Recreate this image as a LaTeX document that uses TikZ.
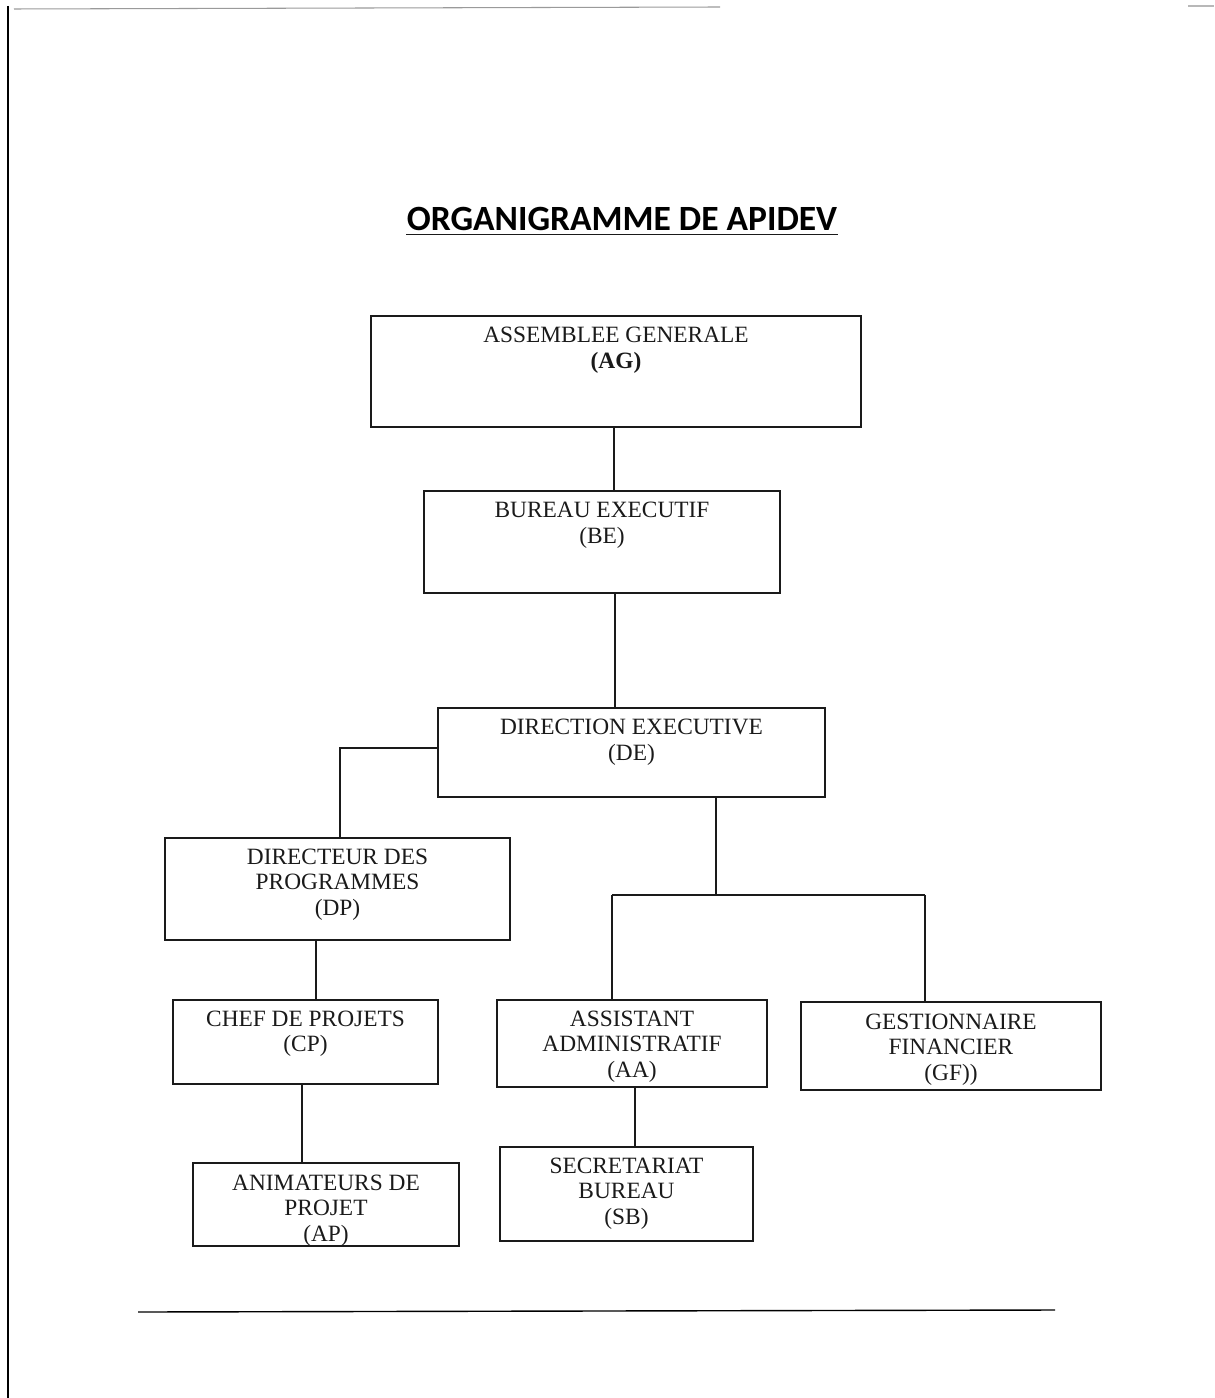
\documentclass[tikz,border=0pt]{standalone}
\usepackage{fontspec}
\setmainfont{Liberation Serif}
\newfontfamily\titlefont{Carlito}
\usetikzlibrary{positioning}
\definecolor{ink}{HTML}{1A1A1A}
\definecolor{edge}{HTML}{9A9A9A}

\begin{document}
\begin{tikzpicture}[x=0.02cm,y=-0.02cm,
  orgbox/.style={draw=ink,line width=0.8pt,inner sep=0pt},
  orglbl/.style={anchor=north,inner sep=0pt,align=center,text=ink,font=\fontsize{13.3}{14.7}\selectfont},
  wire/.style={draw=ink,line width=0.7pt}]
\useasboundingbox (0,0) rectangle (1214,1398);
\draw[line width=1.4pt] (8,6) -- (8,1398);
\draw[edge,line width=0.6pt] (14,9) -- (720,7);
\draw[edge!70,line width=0.6pt] (1188,6) -- (1214,6);
\node[font=\titlefont\bfseries\fontsize{20.2}{24}\selectfont,inner sep=0pt] (title) at (622,219) {ORGANIGRAMME DE APIDEV};
\draw[ink,line width=1pt] ([yshift=-0.08cm]title.base west) -- ([yshift=-0.08cm]title.base east);
\foreach \n/\x/\y/\w/\h in {ag/616/371.5/9.8/2.22,be/602/542/7.12/2.04,de/631.5/752.5/7.74/1.78,
  dp/337.5/889/6.9/2.04,cp/305.5/1042/5.3/1.68,aa/632/1043.5/5.4/1.74,gf/951/1046/6.0/1.76,
  ap/326/1204.5/5.32/1.66,sb/626.5/1194/5.06/1.88}{
  \node[orgbox,minimum width=\w cm,minimum height=\h cm] (\n) at (\x,\y) {};
}
\node[orglbl,below=0.23cm of ag.north] (ag-t) {ASSEMBLEE GENERALE\\\textbf{(AG)}};
\node[orglbl,below=0.23cm of be.north] (be-t) {BUREAU EXECUTIF\\(BE)};
\node[orglbl,below=0.23cm of de.north] (de-t) {DIRECTION EXECUTIVE\\(DE)};
\node[orglbl,below=0.22cm of dp.north] (dp-t) {DIRECTEUR DES\\PROGRAMMES\\(DP)};
\node[orglbl,below=0.22cm of cp.north] (cp-t) {CHEF DE PROJETS\\(CP)};
\node[orglbl,below=0.22cm of aa.north] (aa-t) {ASSISTANT\\ADMINISTRATIF\\(AA)};
\node[orglbl,below=0.24cm of gf.north] (gf-t) {GESTIONNAIRE\\FINANCIER\\(GF))};
\node[orglbl,below=0.24cm of ap.north] (ap-t) {ANIMATEURS DE\\PROJET\\(AP)};
\node[orglbl,below=0.22cm of sb.north] (sb-t) {SECRETARIAT\\BUREAU\\(SB)};
\draw[wire] ([xshift=-0.04cm]ag.south) -- ([xshift=-0.04cm]ag.south |- be.north);
\draw[wire] ([xshift=0.26cm]be.south) -- ([xshift=0.26cm]be.south |- de.north);
\draw[wire] ([yshift=0.09cm]de.west) -| ([xshift=0.05cm]dp.north);
\coordinate (de-b) at ([xshift=1.69cm]de.south);
\coordinate (bus) at (de-b |- 0,895);
\draw[wire] (de-b) -- (bus);
\draw[wire] ([xshift=-0.4cm]aa.north |- bus) -- ([xshift=-0.52cm]gf.north |- bus);
\draw[wire] ([xshift=-0.4cm]aa.north) -- ([xshift=-0.4cm]aa.north |- bus);
\draw[wire] ([xshift=-0.52cm]gf.north) -- ([xshift=-0.52cm]gf.north |- bus);
\draw[wire] ([xshift=0.21cm]cp.north) -- ([xshift=0.21cm]cp.north |- dp.south);
\draw[wire] ([xshift=-0.48cm]ap.north) -- ([xshift=-0.48cm]ap.north |- cp.south);
\draw[wire] ([xshift=0.17cm]sb.north) -- ([xshift=0.17cm]sb.north |- aa.south);
\draw[line width=0.8pt] (138,1312) -- (1055,1310);
\end{tikzpicture}
\end{document}
